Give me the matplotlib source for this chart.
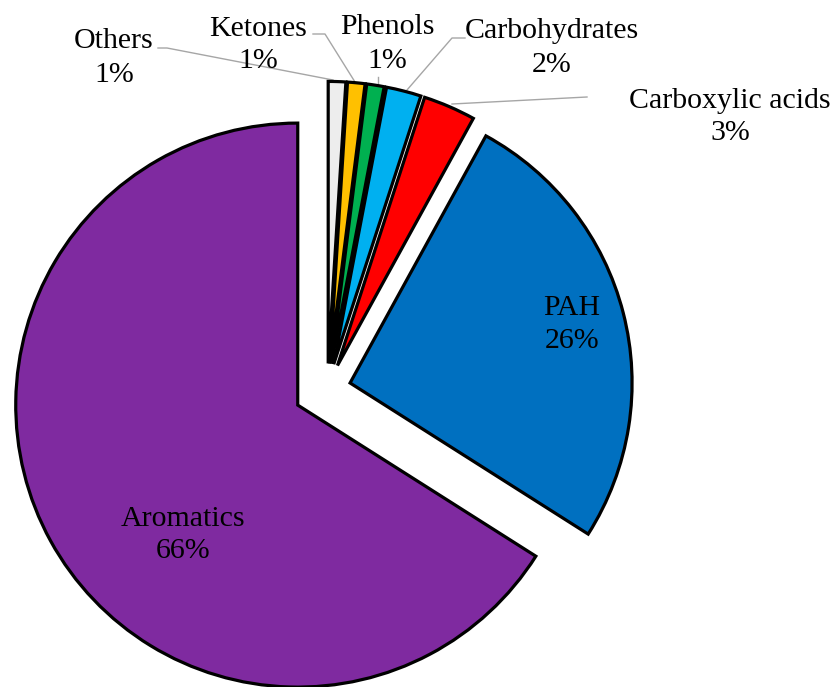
import matplotlib
matplotlib.use("Agg")
import matplotlib.pyplot as plt

categories = ["Others", "Ketones", "Phenols", "Carbohydrates", "Carboxylic acids", "PAH", "Aromatics"]
values = [1, 1, 1, 2, 3, 26, 66]
colors = ["#EDEDED", "#FFC000", "#00B050", "#00B0F0", "#FF0000", "#0070C0", "#7F2AA0"]
explode = [0.09, 0.09, 0.09, 0.09, 0.09, 0.083, 0.12]

W, H = 836, 687
R_PX = 282.0
CX, CY = 327.4, 388.8

def px(x, y):
    return ((x - CX) / R_PX, (CY - y) / R_PX)

plt.rcParams['font.family'] = ['Liberation Serif', 'DejaVu Serif']

fig = plt.figure(figsize=(W / 100, H / 100), dpi=100)
ax = fig.add_axes([0, 0, 1, 1])
ax.pie(values, colors=colors, explode=explode, startangle=90, counterclock=False,
       radius=1.0, wedgeprops=dict(edgecolor="black", linewidth=2.3), normalize=True)
ax.set_xlim(px(0, 0)[0], px(W, 0)[0])
ax.set_ylim(px(0, H)[1], px(0, 0)[1])
ax.set_aspect('auto')
ax.axis('off')

fs = 21.5
label_pos = {
    "Others": (114, 58),
    "Ketones": (258, 45),
    "Phenols": (387, 44),
    "Carbohydrates": (552, 48),
    "Carboxylic acids": (730, 117),
    "PAH": (572, 325),
    "Aromatics": (183, 535),
}
pct = {c: f"{v}%" for c, v in zip(categories, values)}
for c in categories:
    x, y = px(*label_pos[c])
    ax.text(x, y, f"{c}\n{pct[c]}", ha='center', va='center', fontsize=fs,
            linespacing=1.35, color='black')

leaders = [
    [(158, 48), (167, 48), (333, 80)],
    [(313, 34), (325, 34), (355, 82)],
    [(378, 77), (378, 86)],
    [(465, 38), (452, 38), (407, 90)],
    [(587, 97), (452, 104)],
]
for pts in leaders:
    xs, ys = zip(*[px(*p) for p in pts])
    ax.plot(xs, ys, color='#A6A6A6', linewidth=1.0, zorder=0.5)

fig.savefig("out.png", dpi=100)
